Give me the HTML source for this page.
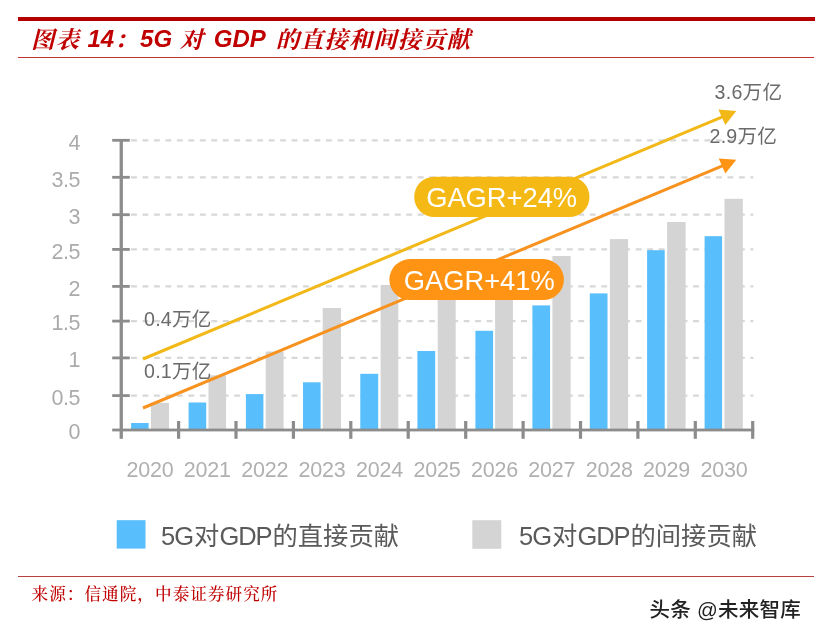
<!DOCTYPE html>
<html lang="zh-CN">
<head>
<meta charset="utf-8">
<title>图表 14：5G 对 GDP 的直接和间接贡献</title>
<style>
html,body{margin:0;padding:0;background:#fff;}
body{width:817px;height:637px;position:relative;overflow:hidden;font-family:"Liberation Sans","Noto Sans CJK SC",sans-serif;}
.abs{position:absolute;white-space:nowrap;line-height:1;}
#topbar{position:absolute;left:18px;top:16.6px;width:796.5px;height:4px;background:#b40000;}
#topline{position:absolute;left:18px;top:56.5px;width:796px;height:1.2px;background:#c2322e;}
#botline{position:absolute;left:18px;top:575.8px;width:796px;height:1.2px;background:#b6403c;}
#title{position:absolute;left:31px;top:25px;white-space:nowrap;line-height:28px;font-size:24px;font-weight:bold;font-style:italic;color:#c00000;font-family:"Liberation Sans","Noto Serif CJK SC",serif;}
#title .c{font-size:23.5px;letter-spacing:0.9px;font-weight:700;position:relative;top:1px;}
#source{position:absolute;left:31.5px;top:584px;white-space:nowrap;line-height:22px;font-size:16.6px;letter-spacing:1.05px;font-weight:500;color:#c00000;font-family:"Liberation Serif","Noto Serif CJK SC",serif;}
svg{position:absolute;left:0;top:0;}
.yl{position:absolute;left:20px;width:60px;text-align:right;height:24px;line-height:24px;font-size:21.5px;letter-spacing:-0.5px;color:#ababab;white-space:nowrap;}
.xl{position:absolute;top:458px;width:60px;text-align:center;height:24px;line-height:24px;font-size:21.5px;letter-spacing:-0.2px;color:#b0b0b0;white-space:nowrap;}
.val{position:absolute;white-space:nowrap;font-size:19.6px;letter-spacing:0.25px;line-height:22px;color:#6a6a6a;}
.val .n{font-size:19.6px;}
.pill{position:absolute;white-space:nowrap;color:#fff;font-size:28px;line-height:32px;text-align:center;transform:scaleX(0.975);}
.leg{position:absolute;white-space:nowrap;color:#5a5a5a;font-size:25.3px;line-height:30px;top:521px;}
.leg .n{font-size:25.5px;letter-spacing:-1.1px;margin-right:1.1px;}
.leg .m{font-size:25.5px;letter-spacing:-0.9px;margin-right:0.9px;}
#wm{position:absolute;left:649.5px;top:597px;letter-spacing:0.25px;white-space:nowrap;font-size:20.5px;line-height:26px;color:#222;font-weight:500;text-shadow:0 0 2px #fff;}
</style>
</head>
<body>
<div id="topbar"></div>
<div id="title"><span class="c">图表</span> <span style="margin-left:1px">14</span><span class="c">：</span><span style="margin-left:1.5px">5G</span> <span class="c" style="margin-left:1px">对</span> <span style="margin-left:3px">GDP</span> <span class="c" style="margin-left:4px">的直接和间接贡献</span></div>
<div id="topline"></div>
<svg width="817" height="637" viewBox="0 0 817 637">
<line x1="131" y1="140.3" x2="753.4" y2="140.3" stroke="#d8d8d8" stroke-width="2.3" stroke-dasharray="5.9 5.57"/>
<line x1="131" y1="177.3" x2="753.4" y2="177.3" stroke="#d8d8d8" stroke-width="2.3" stroke-dasharray="5.9 5.57"/>
<line x1="131" y1="214.7" x2="753.4" y2="214.7" stroke="#d8d8d8" stroke-width="2.3" stroke-dasharray="5.9 5.57"/>
<line x1="131" y1="249.4" x2="753.4" y2="249.4" stroke="#d8d8d8" stroke-width="2.3" stroke-dasharray="5.9 5.57"/>
<line x1="131" y1="286.4" x2="753.4" y2="286.4" stroke="#d8d8d8" stroke-width="2.3" stroke-dasharray="5.9 5.57"/>
<line x1="131" y1="321.1" x2="753.4" y2="321.1" stroke="#d8d8d8" stroke-width="2.3" stroke-dasharray="5.9 5.57"/>
<line x1="131" y1="357.9" x2="753.4" y2="357.9" stroke="#d8d8d8" stroke-width="2.3" stroke-dasharray="5.9 5.57"/>
<line x1="131" y1="395.6" x2="753.4" y2="395.6" stroke="#d8d8d8" stroke-width="2.3" stroke-dasharray="5.9 5.57"/>
<rect x="150.9" y="402.8" width="18.1" height="26.2" fill="#d4d4d4"/>
<rect x="208.5" y="375.3" width="17.6" height="53.7" fill="#d4d4d4"/>
<rect x="265.7" y="351.5" width="17.9" height="77.5" fill="#d4d4d4"/>
<rect x="322.7" y="308" width="18.3" height="121.0" fill="#d4d4d4"/>
<rect x="380.6" y="285" width="17.7" height="144.0" fill="#d4d4d4"/>
<rect x="437.7" y="290" width="18.0" height="139.0" fill="#d4d4d4"/>
<rect x="495.1" y="275" width="17.8" height="154.0" fill="#d4d4d4"/>
<rect x="552.4" y="256" width="18.2" height="173.0" fill="#d4d4d4"/>
<rect x="609.9" y="239.1" width="18.2" height="189.9" fill="#d4d4d4"/>
<rect x="667.1" y="222" width="18.5" height="207.0" fill="#d4d4d4"/>
<rect x="724.5" y="198.8" width="18.3" height="230.2" fill="#d4d4d4"/>
<rect x="131.1" y="423" width="17.5" height="6.0" fill="#58befc"/>
<rect x="188.6" y="402.5" width="17.6" height="26.5" fill="#58befc"/>
<rect x="245.9" y="394.1" width="17.5" height="34.9" fill="#58befc"/>
<rect x="303.0" y="382.3" width="17.6" height="46.7" fill="#58befc"/>
<rect x="360.3" y="373.8" width="17.9" height="55.2" fill="#58befc"/>
<rect x="417.4" y="351" width="17.8" height="78.0" fill="#58befc"/>
<rect x="475.4" y="330.8" width="17.7" height="98.2" fill="#58befc"/>
<rect x="532.4" y="305.4" width="17.7" height="123.6" fill="#58befc"/>
<rect x="589.8" y="293.4" width="17.7" height="135.6" fill="#58befc"/>
<rect x="647.1" y="250.2" width="17.6" height="178.8" fill="#58befc"/>
<rect x="704.6" y="236.2" width="17.5" height="192.8" fill="#58befc"/>
<rect x="119.6" y="139" width="3.3" height="299.8" fill="#8c8c8c"/>
<rect x="112.2" y="428.6" width="642" height="2.8" fill="#8c8c8c"/>
<rect x="112.2" y="138.9" width="17.6" height="2.8" fill="#8c8c8c"/>
<rect x="112.2" y="175.9" width="17.6" height="2.8" fill="#8c8c8c"/>
<rect x="112.2" y="213.3" width="17.6" height="2.8" fill="#8c8c8c"/>
<rect x="112.2" y="248.0" width="17.6" height="2.8" fill="#8c8c8c"/>
<rect x="112.2" y="285.0" width="17.6" height="2.8" fill="#8c8c8c"/>
<rect x="112.2" y="319.7" width="17.6" height="2.8" fill="#8c8c8c"/>
<rect x="112.2" y="356.5" width="17.6" height="2.8" fill="#8c8c8c"/>
<rect x="112.2" y="394.2" width="17.6" height="2.8" fill="#8c8c8c"/>
<rect x="177.0" y="421" width="3.2" height="17.8" fill="#8c8c8c"/>
<rect x="234.4" y="421" width="3.2" height="17.8" fill="#8c8c8c"/>
<rect x="291.8" y="421" width="3.2" height="17.8" fill="#8c8c8c"/>
<rect x="349.2" y="421" width="3.2" height="17.8" fill="#8c8c8c"/>
<rect x="406.6" y="421" width="3.2" height="17.8" fill="#8c8c8c"/>
<rect x="464.1" y="421" width="3.2" height="17.8" fill="#8c8c8c"/>
<rect x="521.5" y="421" width="3.2" height="17.8" fill="#8c8c8c"/>
<rect x="578.9" y="421" width="3.2" height="17.8" fill="#8c8c8c"/>
<rect x="636.3" y="421" width="3.2" height="17.8" fill="#8c8c8c"/>
<rect x="693.7" y="421" width="3.2" height="17.8" fill="#8c8c8c"/>
<rect x="751.1" y="421" width="3.2" height="17.8" fill="#8c8c8c"/>
<line x1="143" y1="359" x2="726" y2="115.4" stroke="#f2b818" stroke-width="3"/>
<polygon points="736.3,111.1 718.4,109.4 725.3,124.9" fill="#f2b818"/>
<line x1="143" y1="408" x2="726" y2="164.3" stroke="#f7921e" stroke-width="3"/>
<polygon points="736.3,159.8 718.7,158.4 725.3,173.6" fill="#ff9414"/>
<rect x="414.2" y="176.7" width="175.3" height="40.4" rx="20.2" fill="#f5b915"/>
<rect x="389.4" y="259.1" width="174.5" height="41" rx="20.5" fill="#ff9414"/>
<rect x="116.7" y="520.2" width="28.8" height="28.4" fill="#58befc"/>
<rect x="472.3" y="520.2" width="29" height="28.6" fill="#d4d4d4"/>
</svg>
<div class="yl" style="top:130.5px">4</div>
<div class="yl" style="top:167.5px">3.5</div>
<div class="yl" style="top:204.9px">3</div>
<div class="yl" style="top:239.6px">2.5</div>
<div class="yl" style="top:276.6px">2</div>
<div class="yl" style="top:311.3px">1.5</div>
<div class="yl" style="top:348.1px">1</div>
<div class="yl" style="top:385.8px">0.5</div>
<div class="yl" style="top:420.2px">0</div>
<div class="xl" style="left:119.9px">2020</div>
<div class="xl" style="left:177.3px">2021</div>
<div class="xl" style="left:234.7px">2022</div>
<div class="xl" style="left:292.1px">2023</div>
<div class="xl" style="left:349.5px">2024</div>
<div class="xl" style="left:407.0px">2025</div>
<div class="xl" style="left:464.4px">2026</div>
<div class="xl" style="left:521.8px">2027</div>
<div class="xl" style="left:579.2px">2028</div>
<div class="xl" style="left:636.6px">2029</div>
<div class="xl" style="left:694.0px">2030</div>
<div class="val" style="left:714.6px;top:80.8px"><span class="n">3.6</span>万亿</div>
<div class="val" style="left:709.5px;top:125px"><span class="n">2.9</span>万亿</div>
<div class="val" style="left:144px;top:308px"><span class="n">0.4</span>万亿</div>
<div class="val" style="left:144px;top:359.5px"><span class="n">0.1</span>万亿</div>
<div class="pill" style="left:414.2px;top:182px;width:175.3px">GAGR+24%</div>
<div class="pill" style="left:391.9px;top:265px;width:174.5px">GAGR+41%</div>
<div class="leg" style="left:161px"><span class="m">5G</span>对<span class="n">GDP</span>的直接贡献</div>
<div class="leg" style="left:519px"><span class="m">5G</span>对<span class="n">GDP</span>的间接贡献</div>
<div id="botline"></div>
<div id="source">来源：信通院，中泰证券研究所</div>
<div id="wm">头条 @未来智库</div>
</body>
</html>
